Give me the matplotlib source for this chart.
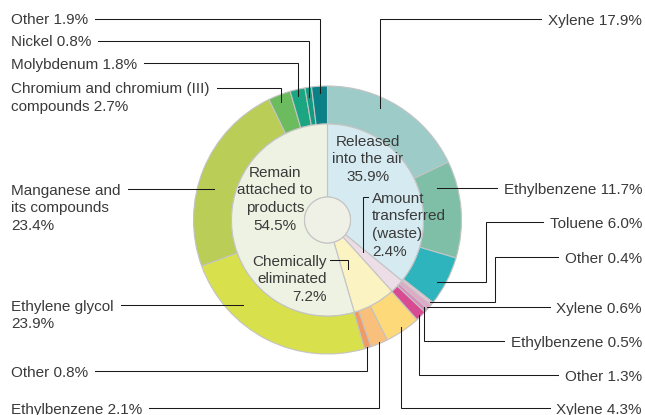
import numpy as np
import matplotlib.pyplot as plt
from matplotlib.patches import Circle
from matplotlib.font_manager import FontProperties

plt.rcParams['font.family'] = ['Liberation Sans', 'DejaVu Sans']

# Inner ring: what happens to the substances
inner_labels = ['Released\ninto the air\n35.9%', 'Amount\ntransferred\n(waste)\n2.4%',
                'Chemically\neliminated\n7.2%', 'Remain\nattached to\nproducts\n54.5%']
inner_values = [35.9, 2.4, 7.2, 54.5]
inner_colors = ['#d5ebf1', '#ecdde6', '#fbf3c1', '#eef2e3']

# Outer ring: breakdown by substance, clockwise from 12 o'clock
outer_names = ['Xylene', 'Ethylbenzene', 'Toluene', 'Other',
               'Xylene', 'Ethylbenzene', 'Other',
               'Xylene', 'Ethylbenzene', 'Other',
               'Ethylene glycol\n', 'Manganese and\nits compounds\n',
               'Chromium and chromium (III)\ncompounds', 'Molybdenum', 'Nickel', 'Other']
outer_values = [17.9, 11.7, 6.0, 0.4,
                0.6, 0.5, 1.3,
                4.3, 2.1, 0.8,
                23.9, 23.4, 2.7, 1.8, 0.8, 1.9]
outer_colors = ['#9dcbc8', '#7fbfa8', '#2eb4bd', '#e8c6d6',
                '#e3a8c8', '#d98bbb', '#d84b93',
                '#fdd97a', '#f8c07b', '#f09a64',
                '#d8e04b', '#bacd56', '#6dbb5f', '#1ba681', '#139b82', '#0b8086']

# layout (pixels): centre, radii
W, H = 645, 415
cx, cy = 327.5, 220
r_out, r_mid, r_hole = 134, 96, 23

# label placement: side, y of first line, route of the leader
# route: ('h', r, s) horizontal into ring; ('v', x, r, s) elbow then vertical;
#        ('hvh', x, y2, r, s) elbow, down, then horizontal
label_side = ['R', 'R', 'R', 'R', 'R', 'R', 'R', 'R',
              'L', 'L', 'L', 'L', 'L', 'L', 'L', 'L']
label_y = [19, 188, 222, 257, 307, 341, 375, 408,
           408, 371, 305, 189, 88, 63, 41, 19]
label_route = [('v', 380, 124, -1), ('h', 114, 1), ('hvh', 486, 282, 126, 1),
               ('hvh', 495, 302, 131, 1), ('h', 132, 1), ('v', 424, 130, 1),
               ('v', 419, 132, 1), ('v', 401, 130, 1),
               ('v', 379, 132, 1), ('v', 367, 133, 1), ('h', 120, -1), ('h', 118, -1),
               ('v', 281, 127, -1), ('v', 298, 127, -1), ('v', 309, 124, -1), ('v', 320, 127, -1)]

txt_color = '#3a3a3a'
line_color = '#1a1a1a'
edge = '#c4c4c4'
fs = 11
ls = 1.34

fig = plt.figure(figsize=(W / 100, H / 100), dpi=100)
ax = fig.add_axes([0, 0, 1, 1])

# y axis points down so the pie runs clockwise from the top
ax.pie(outer_values, colors=outer_colors, radius=r_out, center=(cx, cy),
       startangle=-90, counterclock=True,
       wedgeprops=dict(width=r_out - r_mid, edgecolor=edge, linewidth=0.8))
ax.pie(inner_values, colors=inner_colors, radius=r_mid, center=(cx, cy),
       startangle=-90, counterclock=True,
       wedgeprops=dict(width=r_mid - r_hole, edgecolor=edge, linewidth=0.8))
ax.add_patch(Circle((cx, cy), r_hole, facecolor='#eff1e6', edgecolor=edge, linewidth=0.8))

ax.set_xlim(0, W)
ax.set_ylim(H, 0)
ax.set_aspect('equal')
ax.axis('off')

fig.canvas.draw()
renderer = fig.canvas.get_renderer()
inv = ax.transData.inverted()

# ascent of the first line, so a block can be placed by its first line
_, lp_h, lp_d = renderer.get_text_width_height_descent('lp', FontProperties(size=fs), ismath=False)
asc = lp_h - lp_d


def put_text(x, y, s, ha):
    # y is the vertical middle of the capitals of the first line
    return ax.text(x, y + 5.5 - asc, s, ha=ha, va='top', fontsize=fs, color=txt_color,
                   linespacing=ls, multialignment=ha)


def ring_x(y, r, s):
    return cx + s * np.sqrt(r ** 2 - (y - cy) ** 2)


def ring_y(x, r, s):
    return cy + s * np.sqrt(r ** 2 - (x - cx) ** 2)


def draw_leader(x0, y0, route):
    if route[0] == 'h':
        xs, ys = [x0, ring_x(y0, route[1], route[2])], [y0, y0]
    elif route[0] == 'v':
        ex = route[1]
        xs, ys = [x0, ex, ex], [y0, y0, ring_y(ex, route[2], route[3])]
    else:
        ex, y2 = route[1], route[2]
        xs, ys = [x0, ex, ex, ring_x(y2, route[3], route[4])], [y0, y0, y2, y2]
    ax.plot(xs, ys, color=line_color, lw=0.75, solid_joinstyle='miter')


for name, val, side, y, route in zip(outer_names, outer_values, label_side, label_y, label_route):
    sep = '' if name.endswith('\n') else ' '
    label = f'{name}{sep}{val:.1f}%'
    if side == 'L':
        t = put_text(11, y, label, 'left')
        bb = t.get_window_extent(renderer)
        x0 = inv.transform((bb.x1, 0))[0] + 7
    else:
        t = put_text(642, y, label, 'right')
        bb = t.get_window_extent(renderer)
        x0 = inv.transform((bb.x0, 0))[0] - 7
    draw_leader(x0, y, route)

# labels of the inner ring
put_text(368, 140, inner_labels[0], 'center')
put_text(372, 197, inner_labels[1], 'left')
put_text(327, 260, inner_labels[2], 'right')
put_text(275, 171, inner_labels[3], 'center')

draw_leader(368, 197, ('v', 363, 48, 1))
draw_leader(330, 260, ('v', 348, 53, 1))

fig.savefig('out.png', dpi=100)
